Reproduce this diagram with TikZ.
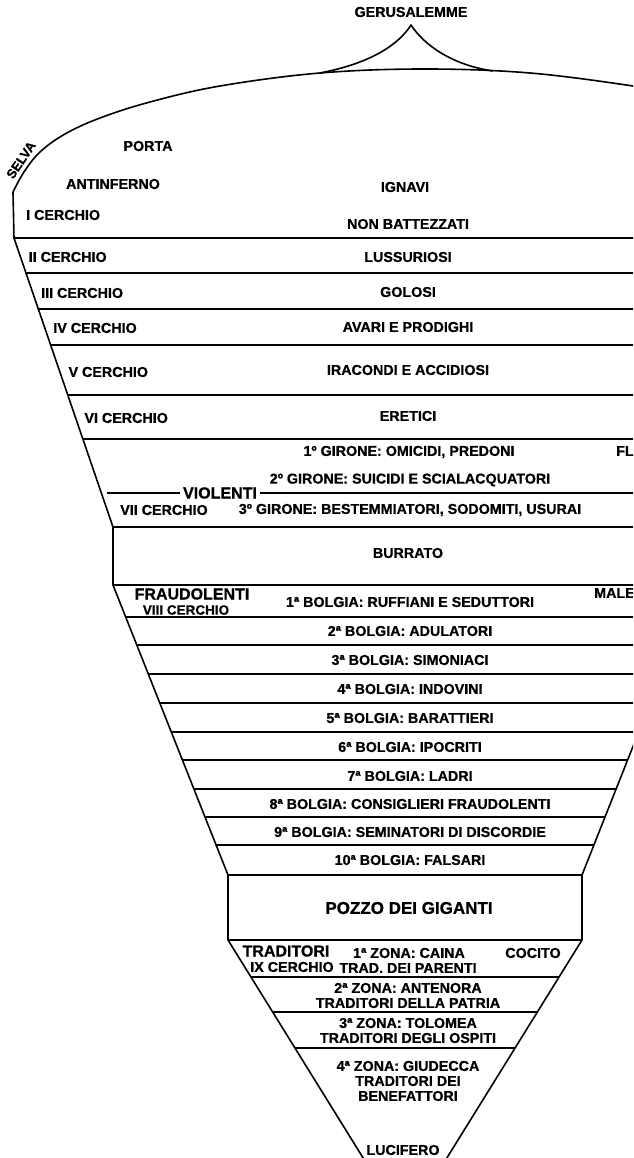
\documentclass[tikz,border=0pt]{standalone}
\usepackage{fontspec}
\setmainfont{Liberation Sans}[BoldFeatures={FakeBold=0.8}]
\usetikzlibrary{positioning}
\tikzset{
  rim/.style={line width=1.6pt, line join=round},
  ring/.style={line width=1.2pt},
  lab/.style={font=\fontsize{14.3}{15}\selectfont\bfseries, inner sep=0pt},
  cat/.style={font=\fontsize{16}{18}\selectfont\bfseries, inner sep=0pt},
  big/.style={font=\fontsize{17}{19}\selectfont\bfseries, inner sep=0pt},
  zona/.style={lab, align=center},
}
% x of the funnel walls at height y (pixels, y downwards)
\newcommand{\upX}[1]{13+(#1-238)*0.346}
\newcommand{\boL}[1]{({113+(#1-585)*0.397},#1)}
\newcommand{\boR}[1]{({697-(#1-585)*0.397},#1)}
\newcommand{\coL}[1]{({228+(#1-940)*0.62},#1)}
\newcommand{\coR}[1]{({582-(#1-940)*0.62},#1)}

\begin{document}
\begin{tikzpicture}[x=1pt,y=-1pt]
  \useasboundingbox (0,0) rectangle (633,1158);
  \clip (0,0) rectangle (633,1158);
  % volta, Gerusalemme, pareti
  \draw[rim] plot[smooth, tension=0.6] coordinates {(13,192) (24,172) (40,152) (65,134)
      (100,118) (150,102) (220,86) (320,73) (425,69) (530,73) (633,86) (660,92)};
  \draw[rim] (320,73) .. controls (372,63) and (399,44) .. (411,25)
                      .. controls (424,45) and (452,65) .. (493,71);
  \draw[rim] (13,192) -- (14,238) -- ({\upX{527}},527) -- (113,585) -- (228,875)
             -- (228,940) -- \coL{1180};
  \draw[rim] (697,585) -- (582,875) -- (582,940) -- \coR{1180};
  % cerchi
  \foreach \yy in {238,273,309,345,395,439}
    \draw[ring] ({\upX{\yy}},\yy) -- (640,\yy);
  \draw[rim] (113,527) -- (640,527);
  \draw[rim] (113,585) -- (640,585);
  \foreach \yy in {617,645,674,703,732,760,789,817,845}
    \draw[ring] \boL{\yy} -- \boR{\yy};
  \draw[rim] (228,875) -- (582,875);
  \draw[rim] (228,940) -- (582,940);
  \foreach \yy in {977,1012,1048}
    \draw[ring] \coL{\yy} -- \coR{\yy};

  \node[lab] (gerus) at (411,12) {GERUSALEMME};
  \node[lab, font=\fontsize{13}{15}\selectfont\bfseries, rotate=56] (selva) at (21,160) {SELVA};
  \node[lab] (porta) at (148,146) {PORTA};
  \node[lab] (antinf) at (113,184) {ANTINFERNO};
  \node[lab] (ignavi) at (405,187) {IGNAVI};
  \node[lab, anchor=west] (c1) at (26,215) {I CERCHIO};
  \foreach \n/\yy/\txt in {1/224/NON BATTEZZATI, 2/257/LUSSURIOSI, 3/292/GOLOSI,
      4/327/AVARI E PRODIGHI, 5/370/IRACONDI E ACCIDIOSI, 6/416/ERETICI}
    \node[lab] (p\n) at (408,\yy) {\txt};
  \foreach \n/\yy/\txt in {2/257/II, 3/293/III, 4/328/IV, 5/372/V, 6/418/VI}
    \node[lab, anchor=west] (c\n) at ({\upX{\yy}+9},\yy) {\txt{} CERCHIO};

  % violenti
  \node[lab] (g1) at (409,452) {1º GIRONE: OMICIDI, PREDONI};
  \node[lab, anchor=west] (fl) at (616,451) {FL};
  \node[lab] (g2) at (410,480) {2º GIRONE: SUICIDI E SCIALACQUATORI};
  \node[cat, inner xsep=3pt] (viol) at (220,493) {VIOLENTI};
  \coordinate (vstart) at (107,493);
  \draw[ring] (vstart) -- (viol.west);
  \draw[ring] (viol.east) -- (640,493);
  \node[lab] (c7) at (164,510) {VII CERCHIO};
  \node[lab] (g3) at (410,510) {3º GIRONE: BESTEMMIATORI, SODOMITI, USURAI};
  \node[lab] (burr) at (408,553) {BURRATO};

  % fraudolenti
  \node[cat] (fraud) at (192,594) {FRAUDOLENTI};
  \node[lab, font=\fontsize{13.5}{15}\selectfont\bfseries] (c8) at (186,610) {VIII CERCHIO};
  \node[lab] (b1) at (410,602) {1ª BOLGIA: RUFFIANI E SEDUTTORI};
  \node[lab, anchor=west] (male) at (594,593) {MALE};
  \foreach \n/\yy/\txt in {2/631/ADULATORI, 3/660/SIMONIACI, 4/689/INDOVINI,
      5/718/BARATTIERI, 6/747/IPOCRITI, 7/776/LADRI, 8/804/CONSIGLIERI FRAUDOLENTI,
      9/832/SEMINATORI DI DISCORDIE, 10/860/FALSARI}
    \node[lab] (b\n) at (410,\yy) {{\n}ª BOLGIA: \txt};
  \node[big] (pozzo) at (409,908) {POZZO DEI GIGANTI};

  % traditori
  \node[cat] (trad) at (286,951) {TRADITORI};
  \node[lab] (c9) at (292,967) {IX CERCHIO};
  \node[lab] (z1) at (409,953) {1ª ZONA: CAINA};
  \node[lab] (z1b) at (408,968) {TRAD. DEI PARENTI};
  \node[lab] (cocito) at (533,953) {COCITO};
  \node[zona] (z2) at (408,995.5) {2ª ZONA: ANTENORA\\TRADITORI DELLA PATRIA};
  \node[zona] (z3) at (408,1030.5) {3ª ZONA: TOLOMEA\\TRADITORI DEGLI OSPITI};
  \node[zona] (z4) at (408,1081) {4ª ZONA: GIUDECCA\\TRADITORI DEI\\BENEFATTORI};
  \node[lab] (lucif) at (403,1150) {LUCIFERO};
\end{tikzpicture}
\end{document}
